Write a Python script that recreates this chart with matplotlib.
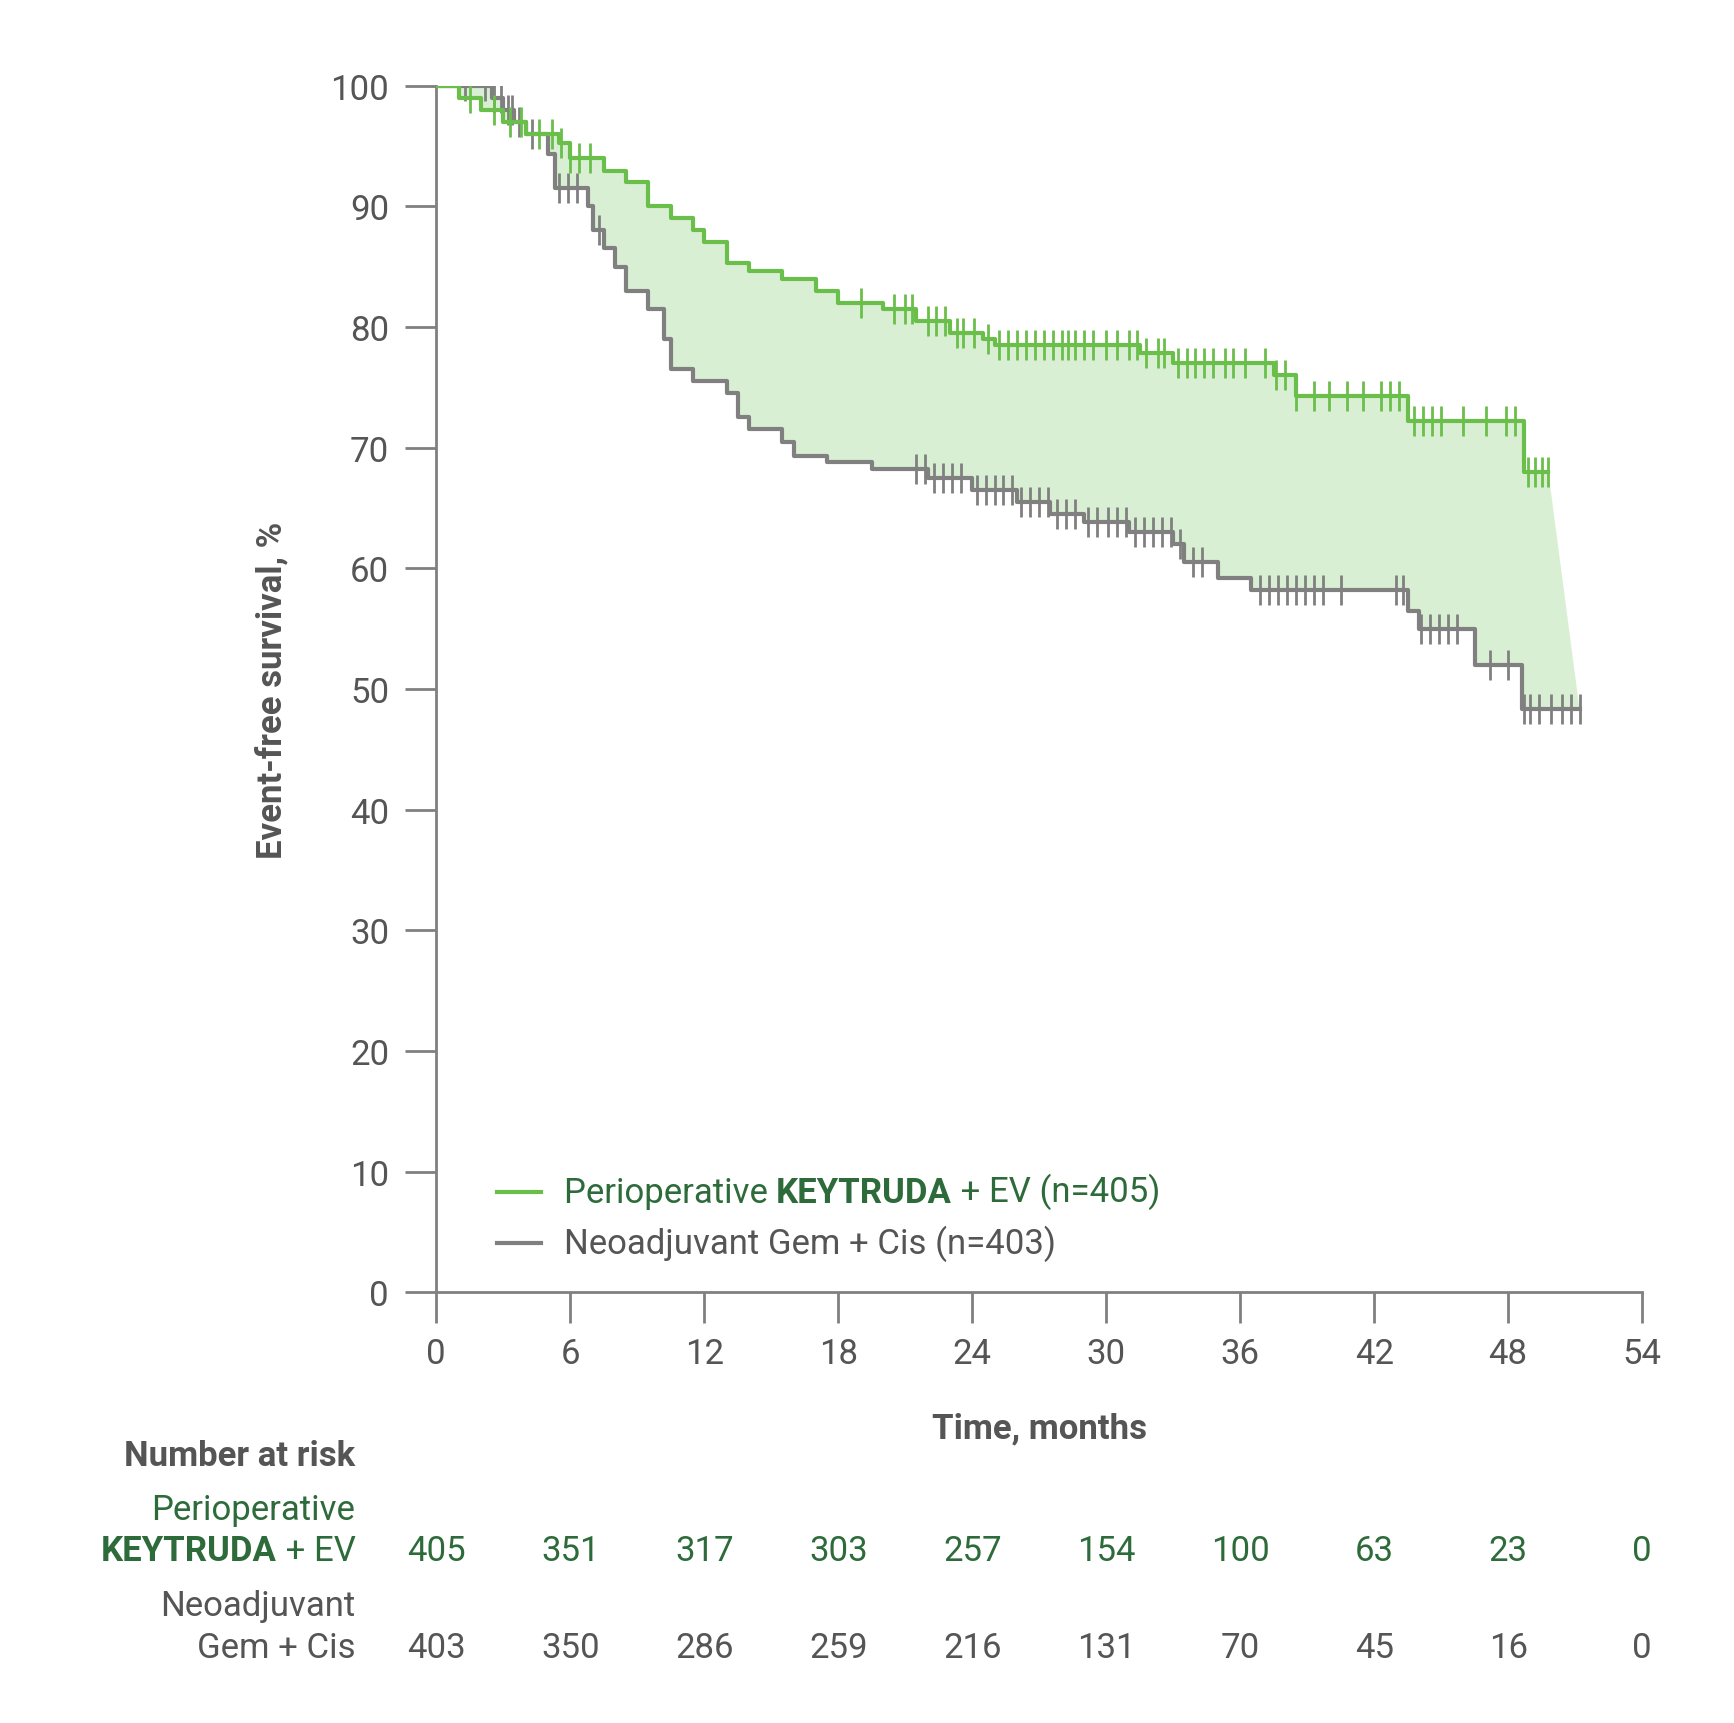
import numpy as np
import matplotlib.pyplot as plt
from matplotlib.transforms import blended_transform_factory

plt.rcParams['font.family'] = ['Roboto', 'DejaVu Sans']

GREEN = "#6abf4b"
DKGREEN = "#2e6b3a"
GRAY = "#808080"
TXT = "#555555"
FILL = "#d9efd3"
FS = 25

# step curves (month, % event-free)
keyt_t = [0, 1, 2, 3, 4, 5.5, 6, 7.5, 8.5, 9.5, 10.5, 11.5, 12, 13, 14, 15.5, 17, 18,
          20, 21.5, 23, 24.5, 25, 31.5, 33, 37.5, 38.5, 43.5, 48.7, 49.8]
keyt_s = [100, 99, 98, 97, 96, 95.2, 94, 92.9, 92, 90, 89, 88, 87, 85.3, 84.6, 84, 83, 82,
          81.5, 80.5, 79.5, 79, 78.5, 77.8, 77, 76, 74.3, 72.2, 68, 68]
gem_t = [0, 2.5, 3, 3.5, 4, 5, 5.3, 6.8, 7, 7.5, 8, 8.5, 9.5, 10.2, 10.5, 11.5, 13, 13.5,
         14, 15.5, 16, 17.5, 19.5, 22, 24, 26, 27.5, 29, 31, 33, 33.5, 35, 36.5, 43.5, 44,
         46.5, 48.6, 51.2]
gem_s = [100, 99, 98, 97, 96, 94.3, 91.5, 90, 88, 86.5, 85, 83, 81.5, 79, 76.5, 75.5, 74.5,
         72.5, 71.5, 70.5, 69.3, 68.8, 68.2, 67.5, 66.5, 65.5, 64.5, 63.8, 63, 62, 60.5,
         59.2, 58.2, 56.5, 55, 52, 48.3, 48.3]

# censor times
keyt_cens = [1.5, 2.6, 3.3, 3.8, 4.6, 5.2, 5.6, 6.0, 6.4, 6.9, 19, 20.5, 21, 21.3, 22, 22.4,
             22.8, 23.3, 23.6, 24.1, 24.7, 25.2, 25.6, 26, 26.4, 26.8, 27.2, 27.6, 28, 28.3,
             28.6, 29, 29.4, 30, 30.5, 31, 31.4, 31.8, 32.3, 32.6, 33.2, 33.6, 34, 34.4,
             34.8, 35.3, 35.7, 36.2, 37.1, 37.6, 38, 38.5, 39.3, 40, 40.8, 41.5, 42.3, 42.7,
             43.1, 43.8, 44.2, 44.6, 45, 46, 47, 47.9, 48.3, 48.9, 49.2, 49.5, 49.8]
gem_cens = [1.3, 2.2, 2.6, 2.9, 3.2, 3.4, 3.7, 4.3, 5.5, 5.9, 6.3, 7.3, 21.5, 21.9, 22.3,
            22.7, 23.1, 23.5, 24.2, 24.6, 25, 25.4, 25.8, 26.2, 26.6, 27, 27.4, 27.8, 28.2,
            28.6, 29.2, 29.6, 30.1, 30.5, 30.9, 31.3, 31.7, 32.1, 32.5, 32.9, 33.3, 33.9,
            34.3, 36.9, 37.3, 37.7, 38.1, 38.5, 38.9, 39.3, 39.7, 40.5, 43, 43.3, 44.1, 44.5,
            44.9, 45.3, 45.7, 47.2, 48, 48.7, 49, 49.4, 49.9, 50.4, 50.8, 51.2]

months = [0, 6, 12, 18, 24, 30, 36, 42, 48, 54]
risk_keyt = [405, 351, 317, 303, 257, 154, 100, 63, 23, 0]
risk_gem = [403, 350, 286, 259, 216, 131, 70, 45, 16, 0]


def step_at(t, s, x):
    idx = np.searchsorted(t, x, side='right') - 1
    return np.asarray(s)[idx]


fig = plt.figure(figsize=(17.34, 17.24), dpi=100)
ax = fig.add_axes([0.2516, 0.2498, 0.6954, 0.7000])

# shaded difference
kx = np.repeat(keyt_t, 2)[1:]
ky = np.repeat(keyt_s, 2)[:-1]
gx = np.repeat(gem_t, 2)[1:]
gy = np.repeat(gem_s, 2)[:-1]
ax.fill(np.concatenate([kx, gx[::-1]]), np.concatenate([ky, gy[::-1]]),
        color=FILL, lw=0, zorder=1)

ax.step(gem_t, gem_s, where='post', color=GRAY, lw=3, zorder=2)
ax.step(keyt_t, keyt_s, where='post', color=GREEN, lw=3, zorder=3)
ax.plot(gem_cens, step_at(gem_t, gem_s, gem_cens), ls='none', marker='|', ms=22,
        mew=2, color=GRAY, zorder=2)
ax.plot(keyt_cens, step_at(keyt_t, keyt_s, keyt_cens), ls='none', marker='|', ms=22,
        mew=2, color=GREEN, zorder=3)

ax.set_xlim(0, 54)
ax.set_ylim(0, 100)
ax.set_xticks(months)
ax.set_yticks(range(0, 101, 10))
for sp in ['top', 'right']:
    ax.spines[sp].set_visible(False)
for sp in ['left', 'bottom']:
    ax.spines[sp].set_color(GRAY)
    ax.spines[sp].set_linewidth(2)
ax.tick_params(colors=GRAY, width=2, length=22, labelsize=FS, labelcolor=TXT, pad=10)
ax.tick_params(axis='y', pad=12)
ax.set_ylabel('Event-free survival, %', fontsize=FS, fontweight='bold', color=TXT,
              labelpad=30)
ax.set_xlabel('Time, months', fontsize=FS, fontweight='bold', color=TXT, labelpad=30)

# legend
ax.plot([2.7, 4.7], [8.3, 8.3], color=GREEN, lw=3)
ax.plot([2.7, 4.7], [4.1, 4.1], color=GRAY, lw=3)
t1 = ax.text(5.7, 8.3, 'Perioperative ', fontsize=FS, color=DKGREEN, va='center')
t2 = ax.annotate('KEYTRUDA', xy=(1, 0), xycoords=t1, fontsize=FS, color=DKGREEN,
                 fontweight='bold', va='bottom')
ax.annotate(' + EV (n=405)', xy=(1, 0), xycoords=t2, fontsize=FS, color=DKGREEN,
            va='bottom')
ax.text(5.7, 4.1, 'Neoadjuvant Gem + Cis (n=403)', fontsize=FS, color=TXT, va='center')

# number at risk table
trans = blended_transform_factory(ax.transData, fig.transFigure)
lx = 0.205
fig.text(lx, 0.155, 'Number at risk', fontsize=FS, fontweight='bold', color=TXT,
         ha='right', va='center')
fig.text(lx, 0.124, 'Perioperative', fontsize=FS, color=DKGREEN, ha='right', va='center')
e1 = fig.text(lx, 0.100, ' + EV', fontsize=FS, color=DKGREEN, ha='right', va='center')
fig.canvas.draw()
bb = e1.get_window_extent().transformed(fig.transFigure.inverted())
fig.text(bb.x0, 0.100, 'KEYTRUDA', fontsize=FS, color=DKGREEN, fontweight='bold',
         ha='right', va='center')
fig.text(lx, 0.068, 'Neoadjuvant', fontsize=FS, color=TXT, ha='right', va='center')
fig.text(lx, 0.044, 'Gem + Cis', fontsize=FS, color=TXT, ha='right', va='center')
for m, a, b in zip(months, risk_keyt, risk_gem):
    ax.text(m, 0.100, str(a), transform=trans, fontsize=FS, color=DKGREEN,
            ha='center', va='center')
    ax.text(m, 0.044, str(b), transform=trans, fontsize=FS, color=TXT,
            ha='center', va='center')

fig.savefig('out.png', dpi=100)
